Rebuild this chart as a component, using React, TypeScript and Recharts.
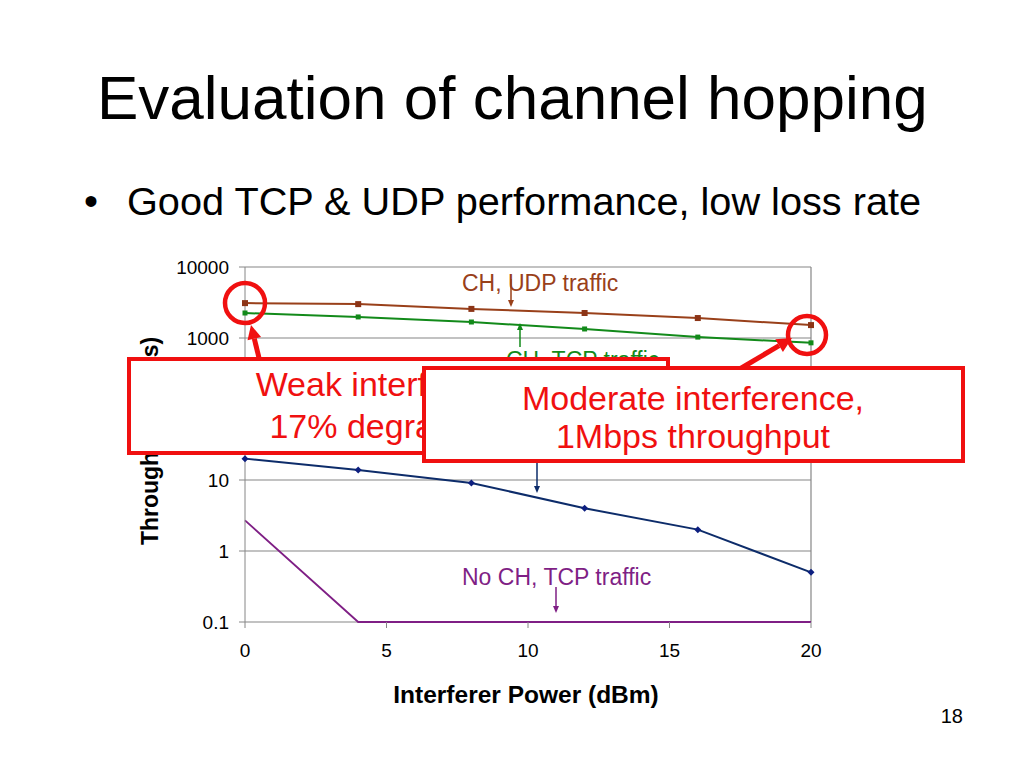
import React from 'react';
import { LineChart, Line, XAxis, YAxis, CartesianGrid, ReferenceLine } from 'recharts';

const powers = [0, 4, 8, 12, 16, 20];
const chUdp = [3100, 3000, 2570, 2250, 1910, 1520];
const chTcp = [2250, 1980, 1680, 1340, 1030, 855];
const noChUdp = [20, 13.8, 9.1, 4.0, 2.0, 0.5];
const noChTcp = [2.7, 0.1, 0.1, 0.1, 0.1, 0.1];
const xTicks = [0, 5, 10, 15, 20];
const yTicks = [0.1, 1, 10, 100, 1000, 10000];

const data = powers.map((p, i) => ({
  power: p,
  chUdp: chUdp[i],
  chTcp: chTcp[i],
  noChUdp: noChUdp[i],
  noChTcp: noChTcp[i],
}));

const FONT = 'Arial, "Liberation Sans", Helvetica, sans-serif';
const RED = '#f01010';

const squareDot = (color: string, size: number) => (props: any) => {
  const { cx, cy, index } = props;
  if (cx == null || cy == null) return <g key={index} />;
  return <rect key={index} x={cx - size / 2} y={cy - size / 2} width={size} height={size} fill={color} />;
};
const diamondDot = (color: string, size: number) => (props: any) => {
  const { cx, cy, index } = props;
  if (cx == null || cy == null) return <g key={index} />;
  const s = size / 2;
  return <polygon key={index} points={`${cx},${cy - s} ${cx + s},${cy} ${cx},${cy + s} ${cx - s},${cy}`} fill={color} />;
};

function Arrow({ x1, y1, x2, y2, color, width, head, headW }: any) {
  const dx = x2 - x1;
  const dy = y2 - y1;
  const len = Math.sqrt(dx * dx + dy * dy);
  const ux = dx / len;
  const uy = dy / len;
  const bx = x2 - ux * head;
  const by = y2 - uy * head;
  const px = -uy;
  const py = ux;
  return (
    <g>
      <line x1={x1} y1={y1} x2={bx} y2={by} stroke={color} strokeWidth={width} />
      <polygon
        points={`${x2},${y2} ${bx + px * headW / 2},${by + py * headW / 2} ${bx - px * headW / 2},${by - py * headW / 2}`}
        fill={color}
      />
    </g>
  );
}

export default function App() {
  return (
    <div style={{ position: 'absolute', left: 0, top: 0, width: 1024, height: 768, background: '#fff', overflow: 'hidden' }}>
      <div style={{ position: 'absolute', left: 0, top: 0 }}>
        <LineChart
          width={1024}
          height={768}
          data={data}
          margin={{ top: 267, right: 213, bottom: 116, left: 185 }}
          style={{ fontFamily: FONT }}
        >
          <CartesianGrid horizontal vertical={false} stroke="#868686" strokeWidth={1.2} />
          <XAxis
            dataKey="power"
            type="number"
            domain={[0, 20]}
            ticks={xTicks}
            height={30}
            axisLine={false}
            stroke="#868686"
            tickSize={6}
            tickMargin={16}
            tick={{ fill: '#000', fontSize: 19, fontFamily: FONT }}
          />
          <YAxis
            scale="log"
            domain={[0.1, 10000]}
            ticks={yTicks}
            width={60}
            stroke="#868686"
            tickSize={6}
            tickMargin={10}
            tickFormatter={(v: number) => String(v)}
            tick={{ fill: '#000', fontSize: 19, fontFamily: FONT }}
          />
          <ReferenceLine x={20} stroke="#868686" strokeWidth={1.2} />
          <Line dataKey="noChTcp" stroke="#7f1f85" strokeWidth={1.8} dot={false} isAnimationActive={false} />
          <Line dataKey="noChUdp" stroke="#0d2c6a" strokeWidth={2} dot={diamondDot('#0d1f80', 7)} isAnimationActive={false} />
          <Line dataKey="chTcp" stroke="#128a1a" strokeWidth={2} dot={squareDot('#128a1a', 5)} isAnimationActive={false} />
          <Line dataKey="chUdp" stroke="#99401a" strokeWidth={2} dot={squareDot('#8c3416', 6)} isAnimationActive={false} />
        </LineChart>
      </div>
      <svg width={1024} height={768} style={{ position: 'absolute', left: 0, top: 0 }} fontFamily={FONT}>
        <text x={97} y={119} fontSize={62} fill="#000">Evaluation of channel hopping</text>
        <text x={84} y={215} fontSize={40} fill="#000">•</text>
        <text x={127} y={215} fontSize={39.7} fill="#000">Good TCP &amp; UDP performance, low loss rate</text>
        <text x={963} y={723} fontSize={20} fill="#000" textAnchor="end">18</text>

        <text x={526} y={703} fontSize={24.5} fontWeight="bold" textAnchor="middle" fill="#000">Interferer Power (dBm)</text>
        <text x={158} y={441} fontSize={23} fontWeight="bold" textAnchor="middle" fill="#000" transform="rotate(-90 158 441)">Throughput (Kbps)</text>

        <text x={462} y={291} fontSize={23} fill="#99401a">CH, UDP traffic</text>
        <Arrow x1={511} y1={279} x2={511} y2={307} color="#99401a" width={1.5} head={7} headW={6} />
        <text x={506} y={368} fontSize={23} fill="#128a1a">CH, TCP traffic</text>
        <Arrow x1={520} y1={347} x2={520} y2={323} color="#128a1a" width={1.5} head={7} headW={6} />
        <text x={462} y={456} fontSize={23} fill="#0d2c6a">No CH, UDP traffic</text>
        <Arrow x1={537} y1={462} x2={537} y2={493} color="#0d2c6a" width={1.5} head={7} headW={6} />
        <text x={462} y={585} fontSize={23} fill="#7f1f85">No CH, TCP traffic</text>
        <Arrow x1={556} y1={587} x2={556} y2={613} color="#7f1f85" width={1.5} head={7} headW={6} />

        <circle cx={245} cy={303} r={20} fill="none" stroke={RED} strokeWidth={4.5} />
        <circle cx={807} cy={335} r={19} fill="none" stroke={RED} strokeWidth={4.5} />
        <Arrow x1={260} y1={362} x2={251} y2={325} color={RED} width={5} head={14} headW={14} />
        <Arrow x1={738} y1={370} x2={792} y2={338} color={RED} width={5} head={15} headW={15} />

        <rect x={129} y={359} width={539} height={94} fill="#fff" stroke={RED} strokeWidth={4} />
        <text x={398} y={396} fontSize={34} fill={RED} textAnchor="middle">Weak interference,</text>
        <text x={398} y={438} fontSize={34} fill={RED} textAnchor="middle">17% degradation</text>

        <rect x={424} y={368} width={539} height={93} fill="#fff" stroke={RED} strokeWidth={4} />
        <text x={693} y={410} fontSize={34} fill={RED} textAnchor="middle">Moderate interference,</text>
        <text x={693} y={448} fontSize={34} fill={RED} textAnchor="middle">1Mbps throughput</text>
      </svg>
    </div>
  );
}
